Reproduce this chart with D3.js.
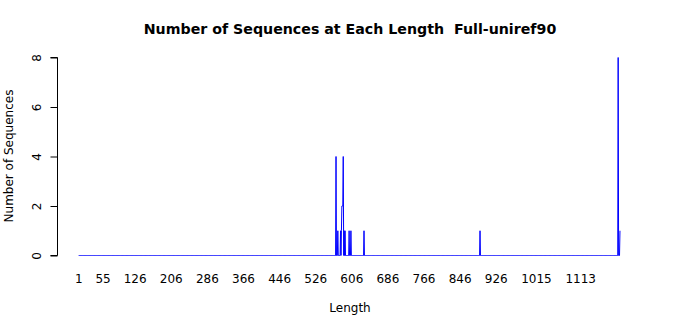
<!DOCTYPE html>
<html>
<head>
<meta charset="utf-8">
<script src="https://cdn.jsdelivr.net/npm/d3@7"></script>
<style>
  body { margin: 0; background: #fff; }
  svg { font-family: "DejaVu Sans", sans-serif; }
</style>
</head>
<body>
<svg width="700" height="315"></svg>
<script>
// Sequence lengths that occur, and how many sequences have each length
var lengths = [571, 575, 581, 583, 584, 585, 586, 587, 589, 591, 600, 604, 633, 890, 1196, 1200];
var counts  = [4,   1,   1,   1,   2,   2,   2,   4,   1,   1,   1,   1,   1,   1,   8,    1];
var minLength = 1, maxLength = 1200;

// Labels printed under the x axis
var xTickLabels = [1, 55, 126, 206, 286, 366, 446, 526, 606, 686, 766, 846, 926, 1015, 1113];
var yTicks = [0, 2, 4, 6, 8];

var svg = d3.select("svg");

var x = d3.scaleLinear().domain([1, 1113]).range([78.7, 580.7]);
var y = d3.scaleLinear().domain([0, 8]).range([255.5, 57.5]);

// every length from min to max, zero where no sequence has that length
var countByLength = new Map(lengths.map((l, i) => [l, counts[i]]));
var series = d3.range(minLength, maxLength + 1).map((l) => {
    return { len: l, n: countByLength.get(l) || 0 };
});

var line = d3.line()
    .x((d) => x(d.len))
    .y((d) => y(d.n));

svg.append("path")
    .datum(series)
    .attr("d", line)
    .attr("fill", "none")
    .attr("stroke", "#0000ff")
    .attr("stroke-width", 1);

// Y axis, R style (vertical tick labels)
var yAxis = svg.append("g")
    .attr("transform", "translate(57.5,0)")
    .call(d3.axisLeft(y).tickValues(yTicks).tickSize(7).tickFormat(d3.format("d")));
yAxis.select(".domain").attr("stroke", "#000").attr("d", "M-7," + y(8) + "H0V" + y(0) + "H-7");
yAxis.selectAll(".tick line").attr("stroke", "#000");
yAxis.selectAll(".tick text")
    .attr("font-size", 12)
    .attr("font-family", "DejaVu Sans, sans-serif")
    .attr("fill", "#000")
    .attr("x", null).attr("dy", null)
    .attr("text-anchor", "middle")
    .attr("transform", "translate(-20,0) rotate(-90)")
    .attr("dominant-baseline", "middle");

// X labels only, no axis line
svg.append("g").selectAll("text")
    .data(xTickLabels)
  .enter().append("text")
    .attr("x", (d) => x(d))
    .attr("y", 283)
    .attr("text-anchor", "middle")
    .attr("font-size", 12)
    .text((d) => d);

// Titles
svg.append("text")
    .attr("x", 350).attr("y", 34)
    .attr("text-anchor", "middle")
    .attr("font-size", 14.2)
    .attr("font-weight", "bold")
    .attr("xml:space", "preserve")
    .text("Number of Sequences at Each Length  Full-uniref90");

svg.append("text")
    .attr("x", 350).attr("y", 312)
    .attr("text-anchor", "middle")
    .attr("font-size", 12)
    .text("Length");

svg.append("text")
    .attr("transform", "translate(13,156) rotate(-90)")
    .attr("text-anchor", "middle")
    .attr("font-size", 12)
    .text("Number of Sequences");
</script>
</body>
</html>
